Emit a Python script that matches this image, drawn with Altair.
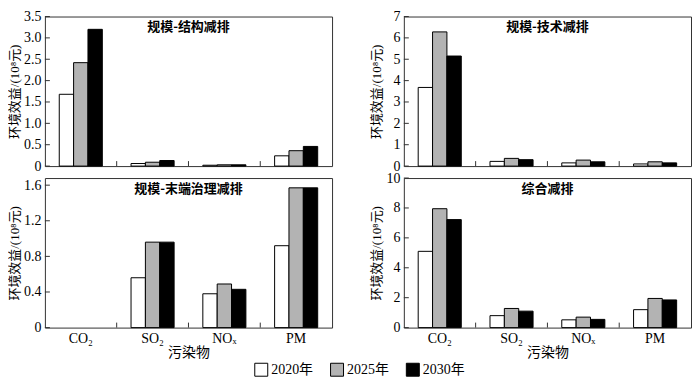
import altair as alt
import pandas as pd

pollutants = ["CO₂", "SO₂", "NOₓ", "PM"]
years = ["2020年", "2025年", "2030年"]
fills = ["#ffffff", "#b3b3b3", "#000000"]

titles = ["规模-结构减排", "规模-技术减排", "规模-末端治理减排", "综合减排"]

p1_2020 = [1.68, 0.06, 0.02, 0.24]
p1_2025 = [2.42, 0.09, 0.03, 0.36]
p1_2030 = [3.20, 0.13, 0.03, 0.46]

p2_2020 = [3.68, 0.22, 0.15, 0.10]
p2_2025 = [6.28, 0.36, 0.28, 0.20]
p2_2030 = [5.15, 0.30, 0.20, 0.15]

p3_2020 = [0.0, 0.56, 0.38, 0.92]
p3_2025 = [0.0, 0.96, 0.49, 1.57]
p3_2030 = [0.0, 0.96, 0.43, 1.57]

p4_2020 = [5.10, 0.80, 0.52, 1.20]
p4_2025 = [7.95, 1.28, 0.70, 1.95]
p4_2030 = [7.22, 1.10, 0.55, 1.85]

ymax = [3.5, 7, 1.68, 10]
yticks = [
    [0, 0.5, 1.0, 1.5, 2.0, 2.5, 3.0, 3.5],
    [0, 1, 2, 3, 4, 5, 6, 7],
    [0, 0.4, 0.8, 1.2, 1.6],
    [0, 2, 4, 6, 8, 10],
]
decimal = [True, False, True, False]

SERIF = "Liberation Serif, Noto Sans CJK SC"
CJK = "Noto Sans CJK SC"
W, H = 288, 150

legend = alt.Legend(
    title=None, orient="none", legendX=210, legendY=347, direction="horizontal",
    symbolType="square", symbolSize=169, symbolStrokeColor="black", symbolStrokeWidth=1,
    labelFont=SERIF, labelFontSize=14, labelColor="black", columnPadding=15, labelOffset=3,
)


def panel(i, series, bottom, title_x):
    df = pd.DataFrame(
        [{"pollutant": p, "year": y, "value": v}
         for y, vals in zip(years, series) for p, v in zip(pollutants, vals)]
    )
    yscale = alt.Scale(domain=[0, ymax[i]], nice=False, zero=True)
    label_expr = ("datum.value == 0 ? '0' : format(datum.value, '.1f')"
                  if decimal[i] else "format(datum.value, 'd')")
    yaxis = alt.Axis(
        values=yticks[i], labelExpr=label_expr, ticks=False, domain=False, grid=False,
        title="环境效益/(10⁸元)", titleX=title_x, titleY=H / 2, titleAngle=270,
        titleAlign="center", titleBaseline="middle", labelPadding=4, titleFontSize=13,
    )
    xscale = alt.Scale(domain=pollutants, paddingInner=0, paddingOuter=0)
    if bottom:
        xaxis = alt.Axis(ticks=False, domain=False, labelAngle=0, title="污染物",
                         labelPadding=4, titleY=25, titleBaseline="middle",
                         titleFont=CJK, titleFontSize=14)
    else:
        xaxis = None

    Y = alt.Y("value:Q", scale=yscale, axis=yaxis)

    bars = alt.Chart(df).mark_bar(stroke="black").encode(
        x=alt.X("pollutant:N", sort=pollutants, scale=xscale, axis=xaxis),
        xOffset=alt.XOffset("year:N", sort=years,
                            scale=alt.Scale(domain=years, paddingInner=0, paddingOuter=1)),
        y=Y,
        fill=alt.Fill("year:N", scale=alt.Scale(domain=years, range=fills), legend=legend),
        strokeWidth=alt.condition("datum.value > 0", alt.value(1), alt.value(0)),
    )

    ytick_df = pd.DataFrame({"value": yticks[i]})
    yrules = alt.Chart(ytick_df).mark_rule(color="#333", strokeWidth=1).encode(
        y=Y, x=alt.value(0), x2=alt.value(5)
    )

    xtick_df = pd.DataFrame({"pollutant": pollutants[1:]})
    xrules = alt.Chart(xtick_df).mark_rule(color="#333", strokeWidth=1).encode(
        x=alt.X("pollutant:N", sort=pollutants, scale=xscale, axis=xaxis, bandPosition=0),
        y=alt.value(H), y2=alt.value(H - 5),
    )

    txt = alt.Chart(pd.DataFrame({"t": [titles[i]]})).mark_text(
        font=CJK, fontSize=13, fontWeight="bold", color="black", baseline="middle"
    ).encode(text="t:N", x=alt.value(W / 2), y=alt.value(11))

    return alt.layer(bars, yrules, xrules, txt).properties(width=W, height=H)


chart = alt.concat(
    panel(0, [p1_2020, p1_2025, p1_2030], False, -30),
    panel(1, [p2_2020, p2_2025, p2_2030], False, -27),
    panel(2, [p3_2020, p3_2025, p3_2030], True, -30),
    panel(3, [p4_2020, p4_2025, p4_2030], True, -27),
    columns=2, spacing={"row": 12, "column": 72},
    bounds="flush",
).resolve_scale(
    y="independent"
).properties(
    padding={"left": 0, "top": 0, "right": 0, "bottom": 0}, background="white"
).configure_view(
    stroke="#333", strokeWidth=1
).configure_axis(
    labelFont=SERIF, labelFontSize=14, labelColor="black",
    titleFont=SERIF, titleFontSize=14, titleFontWeight="normal", titleColor="black",
)

chart.save("out.html", embed_options={"renderer": "svg", "actions": False})
